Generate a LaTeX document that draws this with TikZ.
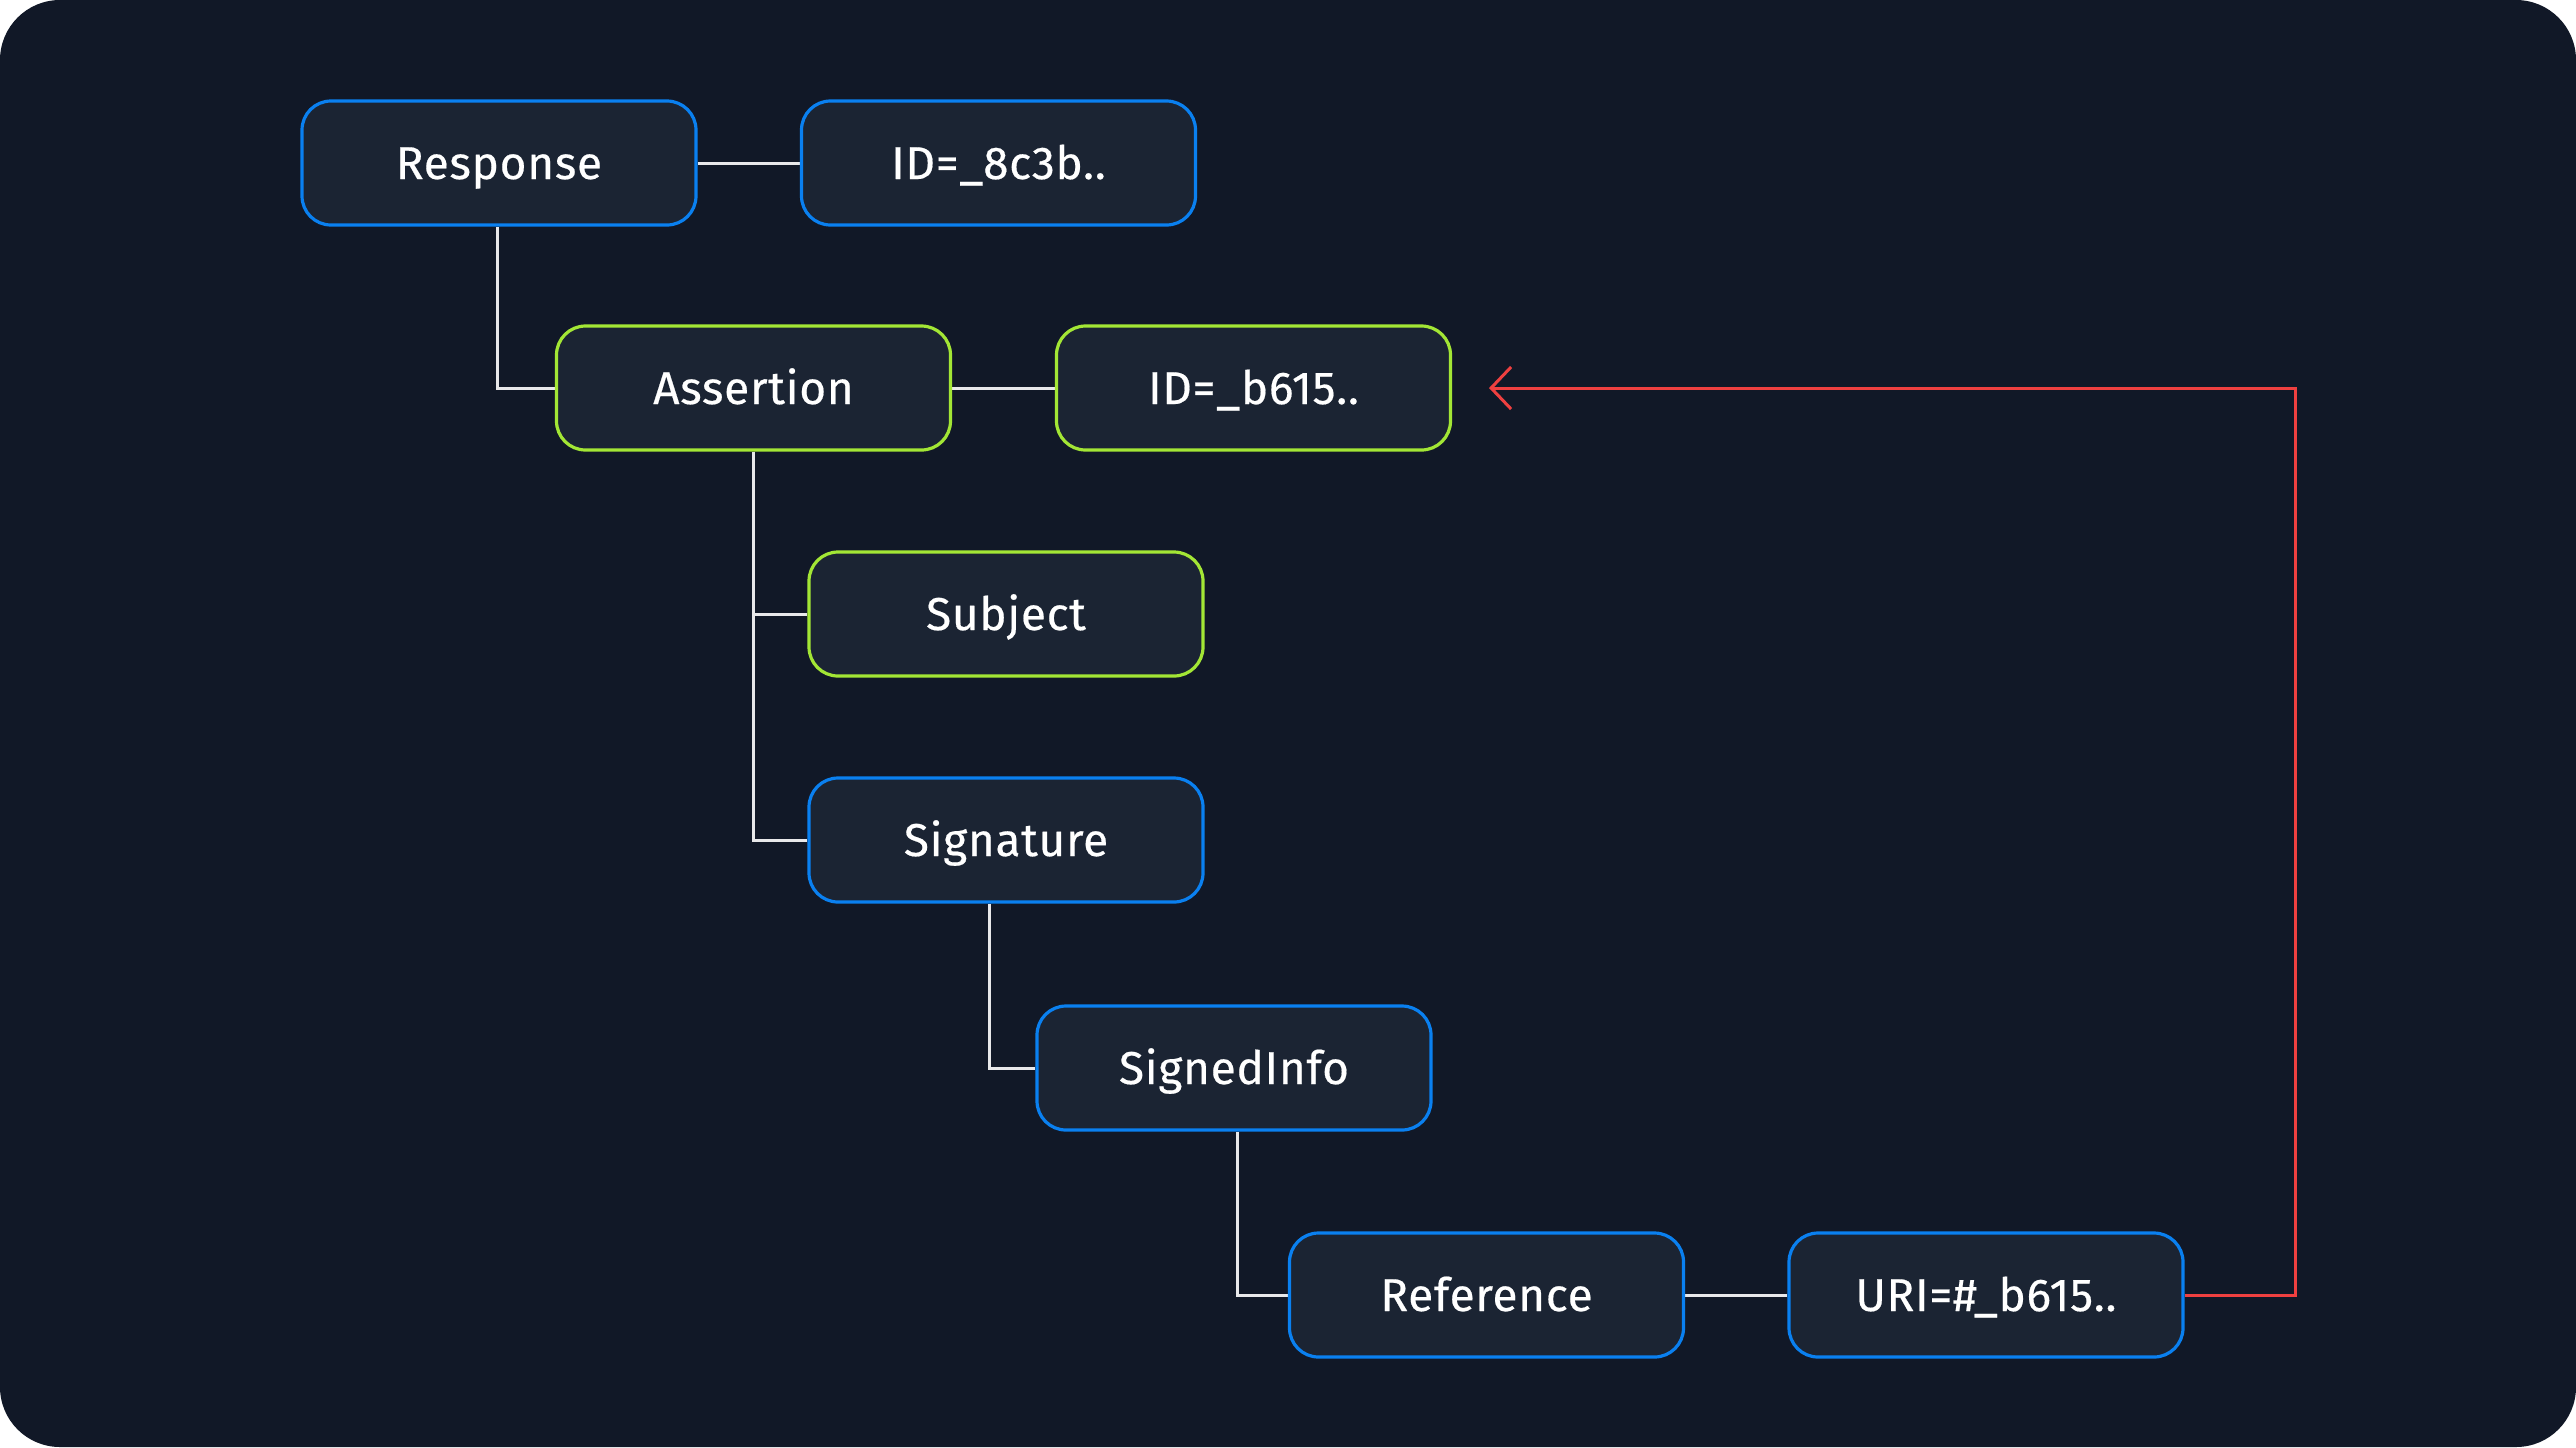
\documentclass[tikz,border=0pt]{standalone}
\usepackage{fontspec}
\setmainfont{Fira Sans}[LetterSpace=1.5, FakeBold=0.4]
\usetikzlibrary{arrows.meta}
\definecolor{bgdark}{HTML}{111827}
\definecolor{boxfill}{HTML}{1B2433}
\definecolor{bluebd}{HTML}{0A80F0}
\definecolor{greenbd}{HTML}{A3E635}
\definecolor{redln}{HTML}{EF4040}
\definecolor{lineclr}{HTML}{E8E8EA}
\pgfdeclarelayer{back}
\pgfdeclarelayer{lines}
\pgfsetlayers{back,lines,main}
\tikzset{
  box/.style={rectangle, rounded corners=14.5pt, minimum width=197pt, minimum height=62pt,
    fill=boxfill, line width=1.6pt, text=white, inner sep=0pt,
    text height=16pt, text depth=0pt,
    font=\fontsize{23}{27}\selectfont},
  bluebox/.style={box, draw=bluebd},
  greenbox/.style={box, draw=greenbd},
  conn/.style={draw=lineclr, line width=1.5pt},
  redconn/.style={draw=redln, line width=1.5pt}
}
\begin{document}
\begin{tikzpicture}[x=0.5pt,y=-0.5pt]
\begin{pgfonlayer}{back}
\fill[white] (0,0) rectangle (2576,1447);
\fill[bgdark, rounded corners=30pt] (0,0) rectangle (2576,1447);
\end{pgfonlayer}
\useasboundingbox (0,0) rectangle (2576,1447);

\node[bluebox]  (resp) at (499,163)    {Response};
\node[bluebox]  (id1)  at (998.5,163)  {ID=\_8c3b..};
\node[greenbox] (asrt) at (753.5,388)  {Assertion};
\node[greenbox] (id2)  at (1253.5,388) {ID=\_b615..};
\node[greenbox] (subj) at (1006,614)   {Subject};
\node[bluebox]  (sig)  at (1006,840)   {Signature};
\node[bluebox]  (si)   at (1234,1068)  {SignedInfo};
\node[bluebox]  (ref)  at (1486.5,1295) {Reference};
\node[bluebox]  (uri)  at (1986,1295)  {URI=\#\_b615..};

\coordinate (rc)  at (2295,388);
\coordinate (tip) at (1489,388);

\begin{pgfonlayer}{lines}
\draw[conn] (resp.east) -- (id1.west);
\draw[conn] ([xshift=-0.6pt]resp.south) |- (asrt.west);
\draw[conn] (asrt.east) -- (id2.west);
\draw[conn] (asrt.south) |- (subj.west);
\draw[conn] (asrt.south) |- (sig.west);
\draw[conn] ([xshift=-8.5pt]sig.south) |- (si.west);
\draw[conn] ([xshift=1.5pt]si.south) |- (ref.west);
\draw[conn] (ref.east) -- (uri.west);
\draw[redconn, -{Straight Barb[length=10pt,width=21pt,line width=1.5pt]}] (uri.east) -| (rc) -- (tip);
\end{pgfonlayer}
\end{tikzpicture}
\end{document}
